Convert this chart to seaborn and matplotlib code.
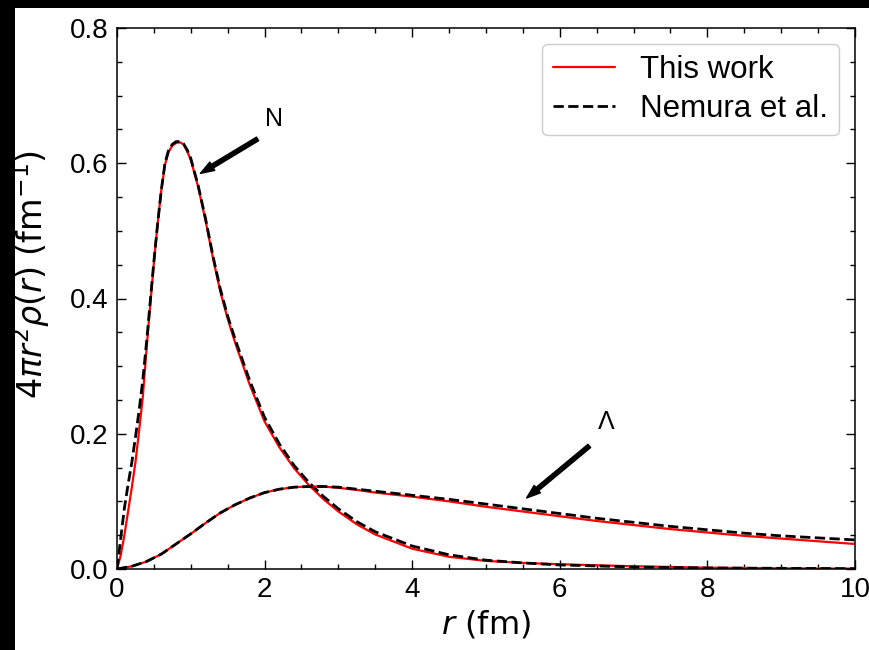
import numpy as np
import matplotlib
matplotlib.use("Agg")
import matplotlib.pyplot as plt
import seaborn as sns
from matplotlib.patches import Rectangle

# radial grid (fm) for the nucleon curves
r_n = [0.0, 0.05, 0.1, 0.15, 0.2, 0.25, 0.3, 0.35, 0.4, 0.45, 0.5, 0.55, 0.6, 0.65,
       0.7, 0.75, 0.8, 0.85, 0.9, 0.95, 1.0, 1.1, 1.2, 1.3, 1.4, 1.5, 1.6, 1.8, 2.0,
       2.2, 2.4, 2.6, 2.8, 3.0, 3.25, 3.5, 4.0, 4.5, 5.0, 5.5, 6.0, 7.0, 8.0, 9.0, 10.0]
n_this = [0.0, 0.02, 0.05, 0.085, 0.12, 0.158, 0.205, 0.255, 0.325, 0.39, 0.453, 0.51,
          0.56, 0.598, 0.617, 0.626, 0.63, 0.631, 0.628, 0.618, 0.605, 0.565, 0.515,
          0.46, 0.41, 0.37, 0.335, 0.272, 0.218, 0.18, 0.149, 0.124, 0.103, 0.085,
          0.066, 0.051, 0.03, 0.018, 0.012, 0.009, 0.007, 0.004, 0.002, 0.001, 0.0005]
n_nemura = [0.0, 0.045, 0.09, 0.125, 0.157, 0.195, 0.235, 0.28, 0.335, 0.395, 0.455,
            0.51, 0.56, 0.6, 0.62, 0.628, 0.632, 0.632, 0.629, 0.62, 0.607, 0.567,
            0.518, 0.463, 0.414, 0.374, 0.34, 0.278, 0.224, 0.185, 0.153, 0.128, 0.107,
            0.089, 0.07, 0.055, 0.034, 0.021, 0.013, 0.009, 0.006, 0.003, 0.0015,
            0.001, 0.0005]

# radial grid (fm) for the Lambda curves
r_l = [0.0, 0.2, 0.4, 0.6, 0.8, 1.0, 1.2, 1.4, 1.6, 1.8, 2.0, 2.2, 2.4, 2.6, 2.8, 3.0,
       3.25, 3.5, 4.0, 4.5, 5.0, 5.5, 6.0, 6.5, 7.0, 7.5, 8.0, 8.5, 9.0, 9.5, 10.0]
l_this = [0.0, 0.004, 0.011, 0.022, 0.037, 0.052, 0.068, 0.083, 0.095, 0.105, 0.113,
          0.118, 0.121, 0.122, 0.122, 0.12, 0.117, 0.113, 0.107, 0.1, 0.092, 0.085,
          0.078, 0.071, 0.065, 0.059, 0.054, 0.049, 0.045, 0.041, 0.037]
l_nemura = [0.0, 0.004, 0.011, 0.022, 0.037, 0.052, 0.068, 0.083, 0.095, 0.105, 0.113,
            0.118, 0.121, 0.122, 0.122, 0.121, 0.118, 0.115, 0.109, 0.103, 0.096,
            0.089, 0.082, 0.075, 0.069, 0.063, 0.058, 0.053, 0.049, 0.046, 0.043]

sns.set_theme(style="ticks")
plt.rcParams['font.family'] = ['Liberation Sans', 'DejaVu Sans']
plt.rcParams['mathtext.fontset'] = 'dejavusans'

fig, ax = plt.subplots(figsize=(8.7, 6.5), dpi=100)
fig.patch.set_facecolor('black')
fig.patches.append(Rectangle((15 / 870, 0), 1, 642 / 650, transform=fig.transFigure,
                             facecolor='white', edgecolor='none', zorder=-1))
fig.subplots_adjust(left=117 / 870, right=855 / 870, top=1 - 28 / 650, bottom=1 - 569 / 650)
ax.set_facecolor('white')

sns.lineplot(x=r_n, y=n_this, ax=ax, color='red', lw=1.6, label='This work')
sns.lineplot(x=r_n, y=n_nemura, ax=ax, color='black', lw=2.0, ls='--', label='Nemura et al.')
sns.lineplot(x=r_l, y=l_this, ax=ax, color='red', lw=1.6, legend=False)
sns.lineplot(x=r_l, y=l_nemura, ax=ax, color='black', lw=2.0, ls='--', legend=False)

ax.set_xlim(0, 10)
ax.set_ylim(0, 0.8)
ax.set_xticks([0, 2, 4, 6, 8, 10])
ax.set_yticks([0.0, 0.2, 0.4, 0.6, 0.8])
ax.set_xticks(np.arange(0, 10.01, 0.5), minor=True)
ax.set_yticks(np.arange(0, 0.801, 0.05), minor=True)
ax.tick_params(which='both', direction='in', top=True, right=True, colors='black',
               labelcolor='black')
ax.tick_params(which='major', length=6.5, width=1.0, labelsize=20, pad=6)
ax.tick_params(which='minor', length=3.4, width=1.0)
for s in ax.spines.values():
    s.set_color('black')
    s.set_linewidth(1.1)

ax.set_xlabel(r'$r$ (fm)', fontsize=23, family='DejaVu Sans', color='black', labelpad=4)
ax.set_ylabel(r'$4\pi r^2\rho(r)$ (fm$^{-1}$)', fontsize=24, family='DejaVu Sans',
              color='black')
ax.yaxis.set_label_coords(-0.088, 0.545)

# annotations
ax.annotate('', xy=(1.13, 0.585), xytext=(1.905, 0.636),
            arrowprops=dict(facecolor='black', edgecolor='black', width=3, headwidth=7,
                            headlength=10, shrink=0))
ax.text(2.13, 0.665, 'N', fontsize=18, ha='center', va='center', color='black')
ax.annotate('', xy=(5.55, 0.105), xytext=(6.40, 0.182),
            arrowprops=dict(facecolor='black', edgecolor='black', width=3, headwidth=7,
                            headlength=10, shrink=0))
ax.text(6.63, 0.217, 'Λ', fontsize=18, ha='center', va='center', color='black')

leg = ax.legend(loc='upper right', fontsize=22.5, frameon=True, fancybox=True,
                edgecolor='0.8', framealpha=1.0, handlelength=2.0, labelspacing=0.3,
                borderpad=0.35)
for t in leg.get_texts():
    t.set_color('black')

fig.savefig('out.png', dpi=100, facecolor=fig.get_facecolor())
